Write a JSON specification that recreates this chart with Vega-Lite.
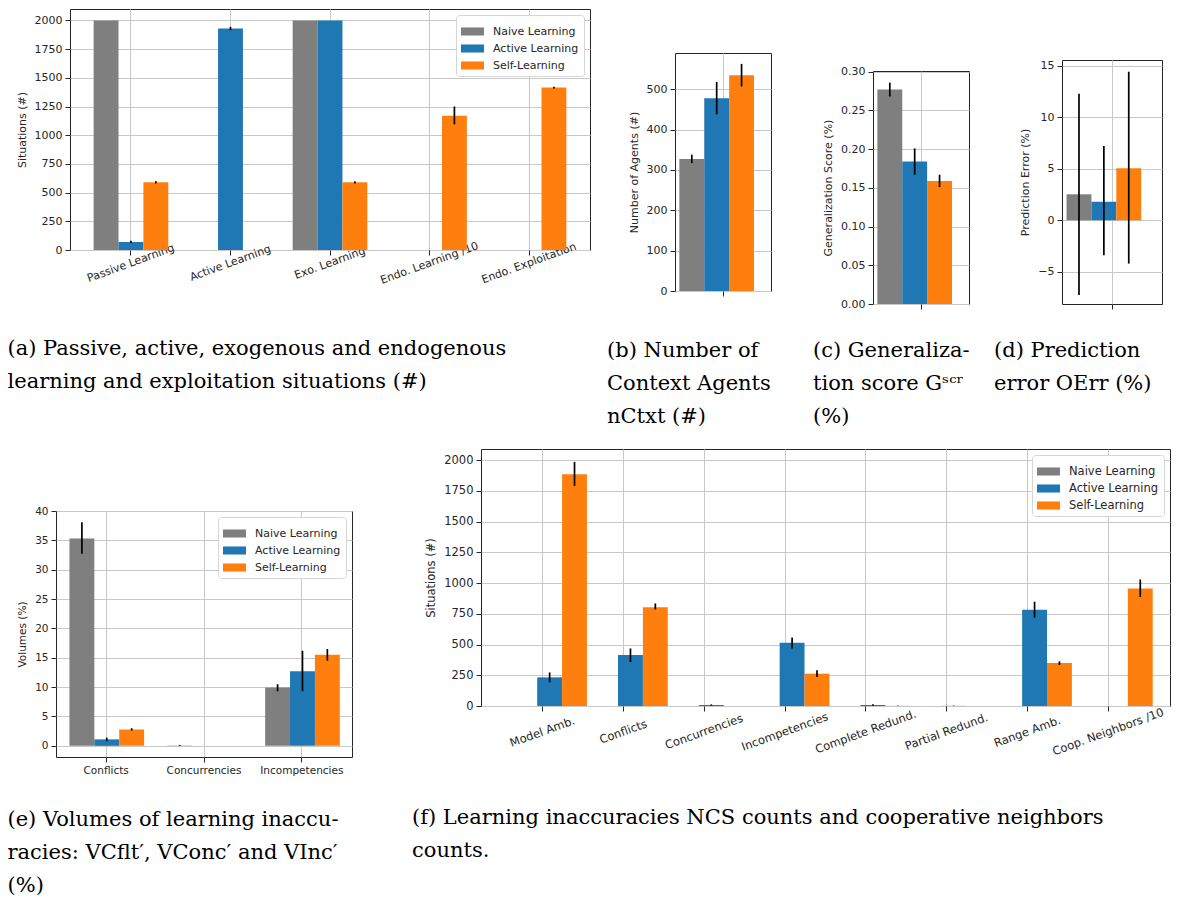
{
"$schema": "https://vega.github.io/schema/vega-lite/v6.json",
"padding": {"left": 6, "top": 8, "right": 10, "bottom": 5},
"background": "white",
"datasets": {
"a": [
{"cat": "Passive Learning", "series": "Naive Learning", "value": 2000, "lo": 2000, "hi": 2000},
{"cat": "Passive Learning", "series": "Active Learning", "value": 70, "lo": 60, "hi": 81},
{"cat": "Passive Learning", "series": "Self-Learning", "value": 590, "lo": 580, "hi": 600},
{"cat": "Active Learning", "series": "Naive Learning", "value": 0, "lo": 0, "hi": 0},
{"cat": "Active Learning", "series": "Active Learning", "value": 1930, "lo": 1915, "hi": 1945},
{"cat": "Active Learning", "series": "Self-Learning", "value": 0, "lo": 0, "hi": 0},
{"cat": "Exo. Learning", "series": "Naive Learning", "value": 2000, "lo": 2000, "hi": 2000},
{"cat": "Exo. Learning", "series": "Active Learning", "value": 2000, "lo": 2000, "hi": 2000},
{"cat": "Exo. Learning", "series": "Self-Learning", "value": 590, "lo": 580, "hi": 600},
{"cat": "Endo. Learning /10", "series": "Naive Learning", "value": 0, "lo": 0, "hi": 0},
{"cat": "Endo. Learning /10", "series": "Active Learning", "value": 0, "lo": 0, "hi": 0},
{"cat": "Endo. Learning /10", "series": "Self-Learning", "value": 1170, "lo": 1095, "hi": 1250},
{"cat": "Endo. Exploitation", "series": "Naive Learning", "value": 0, "lo": 0, "hi": 0},
{"cat": "Endo. Exploitation", "series": "Active Learning", "value": 0, "lo": 0, "hi": 0},
{"cat": "Endo. Exploitation", "series": "Self-Learning", "value": 1415, "lo": 1407, "hi": 1423}
],
"b": [
{"cat": "all", "series": "Naive Learning", "value": 327, "lo": 317, "hi": 338},
{"cat": "all", "series": "Active Learning", "value": 478, "lo": 438, "hi": 518},
{"cat": "all", "series": "Self-Learning", "value": 535, "lo": 507, "hi": 563}
],
"c": [
{"cat": "all", "series": "Naive Learning", "value": 0.277, "lo": 0.268, "hi": 0.286},
{"cat": "all", "series": "Active Learning", "value": 0.184, "lo": 0.167, "hi": 0.201},
{"cat": "all", "series": "Self-Learning", "value": 0.159, "lo": 0.151, "hi": 0.167}
],
"d": [
{"cat": "all", "series": "Naive Learning", "value": 2.53, "lo": -7.26, "hi": 12.3},
{"cat": "all", "series": "Active Learning", "value": 1.81, "lo": -3.4, "hi": 7.22},
{"cat": "all", "series": "Self-Learning", "value": 5.05, "lo": -4.2, "hi": 14.44}
],
"e": [
{"cat": "Conflicts", "series": "Naive Learning", "value": 35.3, "lo": 32.7, "hi": 38.1},
{"cat": "Conflicts", "series": "Active Learning", "value": 1.1, "lo": 0.8, "hi": 1.4},
{"cat": "Conflicts", "series": "Self-Learning", "value": 2.8, "lo": 2.6, "hi": 3.0},
{"cat": "Concurrencies", "series": "Naive Learning", "value": 0.05, "lo": 0.0, "hi": 0.15},
{"cat": "Concurrencies", "series": "Active Learning", "value": 0, "lo": 0, "hi": 0},
{"cat": "Concurrencies", "series": "Self-Learning", "value": 0, "lo": 0, "hi": 0},
{"cat": "Incompetencies", "series": "Naive Learning", "value": 9.95, "lo": 9.3, "hi": 10.5},
{"cat": "Incompetencies", "series": "Active Learning", "value": 12.7, "lo": 9.3, "hi": 16.2},
{"cat": "Incompetencies", "series": "Self-Learning", "value": 15.5, "lo": 14.5, "hi": 16.5}
],
"f": [
{"cat": "Model Amb.", "series": "Naive Learning", "value": 0, "lo": 0, "hi": 0},
{"cat": "Model Amb.", "series": "Active Learning", "value": 233, "lo": 193, "hi": 273},
{"cat": "Model Amb.", "series": "Self-Learning", "value": 1885, "lo": 1790, "hi": 1985},
{"cat": "Conflicts", "series": "Naive Learning", "value": 0, "lo": 0, "hi": 0},
{"cat": "Conflicts", "series": "Active Learning", "value": 414, "lo": 358, "hi": 468},
{"cat": "Conflicts", "series": "Self-Learning", "value": 804, "lo": 785, "hi": 834},
{"cat": "Concurrencies", "series": "Naive Learning", "value": 0, "lo": 0, "hi": 0},
{"cat": "Concurrencies", "series": "Active Learning", "value": 8, "lo": 3, "hi": 13},
{"cat": "Concurrencies", "series": "Self-Learning", "value": 0, "lo": 0, "hi": 0},
{"cat": "Incompetencies", "series": "Naive Learning", "value": 0, "lo": 0, "hi": 0},
{"cat": "Incompetencies", "series": "Active Learning", "value": 515, "lo": 468, "hi": 558},
{"cat": "Incompetencies", "series": "Self-Learning", "value": 263, "lo": 235, "hi": 290},
{"cat": "Complete Redund.", "series": "Naive Learning", "value": 0, "lo": 0, "hi": 0},
{"cat": "Complete Redund.", "series": "Active Learning", "value": 8, "lo": 3, "hi": 14},
{"cat": "Complete Redund.", "series": "Self-Learning", "value": 1, "lo": 0, "hi": 3},
{"cat": "Partial Redund.", "series": "Naive Learning", "value": 0, "lo": 0, "hi": 0},
{"cat": "Partial Redund.", "series": "Active Learning", "value": 1, "lo": 0, "hi": 3},
{"cat": "Partial Redund.", "series": "Self-Learning", "value": 0, "lo": 0, "hi": 0},
{"cat": "Range Amb.", "series": "Naive Learning", "value": 0, "lo": 0, "hi": 0},
{"cat": "Range Amb.", "series": "Active Learning", "value": 783, "lo": 718, "hi": 848},
{"cat": "Range Amb.", "series": "Self-Learning", "value": 349, "lo": 333, "hi": 363},
{"cat": "Coop. Neighbors /10", "series": "Naive Learning", "value": 0, "lo": 0, "hi": 0},
{"cat": "Coop. Neighbors /10", "series": "Active Learning", "value": 0, "lo": 0, "hi": 0},
{"cat": "Coop. Neighbors /10", "series": "Self-Learning", "value": 956, "lo": 886, "hi": 1029}
]
},
"config": {
"font": "DejaVu Sans",
"view": {"stroke": "#262626", "strokeWidth": 1},
"axis": {"labelFont": "DejaVu Sans", "labelFontSize": 11, "labelColor": "#262626", "titleFont": "DejaVu Sans", "titleFontSize": 11, "titleFontWeight": "normal", "titleColor": "#262626", "gridColor": "#c8c8c8", "gridWidth": 1, "gridOpacity": 1, "domain": false, "tickColor": "#262626", "tickSize": 5, "tickWidth": 1, "labelPadding": 3, "titlePadding": 7, "zindex": 1, "labelOverlap": false},
"legend": {"labelFont": "DejaVu Sans", "labelFontSize": 11, "labelColor": "#262626", "symbolType": "M-1,-0.35L1,-0.35L1,0.35L-1,0.35Z", "symbolSize": 529, "symbolStrokeWidth": 0, "symbolOpacity": 1, "rowPadding": 0, "labelOffset": 9, "padding": 5, "fillColor": "#ffffff", "strokeColor": "#d6d6d6", "cornerRadius": 3, "offset": 6},
"title": {"font": "DejaVu Serif", "fontSize": 21, "fontWeight": "normal", "color": "#000000", "lineHeight": 33, "baseline": "top", "anchor": "start", "align": "left"}
},
"resolve": {"scale": {"color": "independent"}, "legend": {"color": "independent"}},
"spacing": 21,
"vconcat": [
{"spacing": 0, "resolve": {"scale": {"color": "independent"}, "legend": {"color": "independent"}}, "hconcat": [
{"width": 1, "height": 1, "data": {"values": [{}]}, "mark": {"type": "text", "fontSize": 0}, "encoding": {"text": {"value": ""}}, "view": {"stroke": null}},
{
"width": 520, "height": 241,
"data": {"name": "a"},
"title": {"text": ["(a) Passive, active, exogenous and endogenous", "learning and exploitation situations (#)"], "orient": "bottom", "anchor": "start", "frame": "group", "dx": -62.5, "offset": 53},
"layer": [
{"mark": {"type": "bar"},
"encoding": {
"x": {"field": "cat", "type": "nominal", "sort": null, "title": null, "scale": {"paddingInner": 0.25, "paddingOuter": 0.2375}, "axis": {"grid": true, "labelAngle": -20, "labelAlign": "center", "labelBaseline": "middle", "labelPadding": 8}},
"xOffset": {"field": "series", "type": "nominal", "sort": ["Naive Learning", "Active Learning", "Self-Learning"], "scale": {"paddingInner": 0, "paddingOuter": 0}},
"y": {"field": "value", "type": "quantitative", "title": "Situations (#)", "scale": {"domain": [0, 2100], "nice": false, "zero": false}, "axis": {"values": [0, 250, 500, 750, 1000, 1250, 1500, 1750, 2000], "format": "d"}},
"color": {"field": "series", "type": "nominal", "sort": ["Naive Learning", "Active Learning", "Self-Learning"], "scale": {"domain": ["Naive Learning", "Active Learning", "Self-Learning"], "range": ["#7f7f7f", "#1f77b4", "#ff7f0e"]}, "legend": {"title": null, "orient": "top-right"}}
}},
{"mark": {"type": "rule", "color": "#000000", "strokeWidth": 1.7},
"encoding": {
"x": {"field": "cat", "type": "nominal", "sort": null},
"xOffset": {"field": "series", "type": "nominal", "sort": ["Naive Learning", "Active Learning", "Self-Learning"]},
"y": {"field": "lo", "type": "quantitative", "title": "Situations (#)", "axis": {"values": [0, 250, 500, 750, 1000, 1250, 1500, 1750, 2000], "format": "d"}},
"y2": {"field": "hi"}
}}
]
},
{"width": 14.5, "height": 1, "data": {"values": [{}]}, "mark": {"type": "text", "fontSize": 0}, "encoding": {"text": {"value": ""}}, "view": {"stroke": null}},
{"spacing": 0, "vconcat": [
{"width": 96, "height": 43, "data": {"values": [{}]}, "mark": {"type": "text", "fontSize": 0}, "encoding": {"text": {"value": ""}}, "view": {"stroke": null}},
{
"width": 96, "height": 238,
"data": {"name": "b"},
"title": {"text": ["(b) Number of", "Context Agents", "nCtxt (#)"], "orient": "bottom", "anchor": "start", "frame": "group", "dx": -68, "offset": 43},
"layer": [
{"mark": {"type": "bar"},
"encoding": {
"x": {"field": "cat", "type": "nominal", "title": null, "scale": {"paddingInner": 0, "paddingOuter": 0.05}, "axis": {"grid": true, "labels": false}},
"xOffset": {"field": "series", "type": "nominal", "sort": ["Naive Learning", "Active Learning", "Self-Learning"], "scale": {"paddingInner": 0, "paddingOuter": 0}},
"y": {"field": "value", "type": "quantitative", "title": "Number of Agents (#)", "scale": {"domain": [0, 590], "nice": false, "zero": false}, "axis": {"values": [0, 100, 200, 300, 400, 500]}},
"color": {"field": "series", "type": "nominal", "scale": {"domain": ["Naive Learning", "Active Learning", "Self-Learning"], "range": ["#7f7f7f", "#1f77b4", "#ff7f0e"]}, "legend": null}
}},
{"mark": {"type": "rule", "color": "#000000", "strokeWidth": 1.7},
"encoding": {
"x": {"field": "cat", "type": "nominal"},
"xOffset": {"field": "series", "type": "nominal", "sort": ["Naive Learning", "Active Learning", "Self-Learning"]},
"y": {"field": "lo", "type": "quantitative", "title": "Number of Agents (#)", "axis": {"values": [0, 100, 200, 300, 400, 500]}},
"y2": {"field": "hi"}
}}
]
}
]},
{"width": 40, "height": 1, "data": {"values": [{}]}, "mark": {"type": "text", "fontSize": 0}, "encoding": {"text": {"value": ""}}, "view": {"stroke": null}},
{"spacing": 0, "vconcat": [
{"width": 96, "height": 56, "data": {"values": [{}]}, "mark": {"type": "text", "fontSize": 0}, "encoding": {"text": {"value": ""}}, "view": {"stroke": null}},
{
"width": 96, "height": 233,
"data": {"name": "c"},
"title": {"text": ["(c) Generaliza-", "tion score Gˢᶜʳ", "(%)"], "orient": "bottom", "anchor": "start", "frame": "group", "dx": -60, "offset": 30},
"layer": [
{"mark": {"type": "bar"},
"encoding": {
"x": {"field": "cat", "type": "nominal", "title": null, "scale": {"paddingInner": 0, "paddingOuter": 0.05}, "axis": {"grid": true, "labels": false}},
"xOffset": {"field": "series", "type": "nominal", "sort": ["Naive Learning", "Active Learning", "Self-Learning"], "scale": {"paddingInner": 0, "paddingOuter": 0}},
"y": {"field": "value", "type": "quantitative", "title": "Generalization Score (%)", "scale": {"domain": [0, 0.301], "nice": false, "zero": false}, "axis": {"values": [0, 0.05, 0.1, 0.15, 0.2, 0.25, 0.3], "format": ".2f"}},
"color": {"field": "series", "type": "nominal", "scale": {"domain": ["Naive Learning", "Active Learning", "Self-Learning"], "range": ["#7f7f7f", "#1f77b4", "#ff7f0e"]}, "legend": null}
}},
{"mark": {"type": "rule", "color": "#000000", "strokeWidth": 1.7},
"encoding": {
"x": {"field": "cat", "type": "nominal"},
"xOffset": {"field": "series", "type": "nominal", "sort": ["Naive Learning", "Active Learning", "Self-Learning"]},
"y": {"field": "lo", "type": "quantitative", "title": "Generalization Score (%)", "axis": {"values": [0, 0.05, 0.1, 0.15, 0.2, 0.25, 0.3], "format": ".2f"}},
"y2": {"field": "hi"}
}}
]
}
]},
{"width": 22, "height": 1, "data": {"values": [{}]}, "mark": {"type": "text", "fontSize": 0}, "encoding": {"text": {"value": ""}}, "view": {"stroke": null}},
{"spacing": 0, "vconcat": [
{"width": 100, "height": 50, "data": {"values": [{}]}, "mark": {"type": "text", "fontSize": 0}, "encoding": {"text": {"value": ""}}, "view": {"stroke": null}},
{
"width": 100, "height": 244,
"data": {"name": "d"},
"title": {"text": ["(d) Prediction", "error OErr (%)"], "orient": "bottom", "anchor": "start", "frame": "group", "dx": -68, "offset": 30},
"layer": [
{"mark": {"type": "bar"},
"encoding": {
"x": {"field": "cat", "type": "nominal", "title": null, "scale": {"paddingInner": 0, "paddingOuter": 0.05}, "axis": {"grid": true, "labels": false}},
"xOffset": {"field": "series", "type": "nominal", "sort": ["Naive Learning", "Active Learning", "Self-Learning"], "scale": {"paddingInner": 0, "paddingOuter": 0}},
"y": {"field": "value", "type": "quantitative", "title": "Prediction Error (%)", "scale": {"domain": [-8.13, 15.58], "nice": false, "zero": false}, "axis": {"values": [-5, 0, 5, 10, 15]}},
"color": {"field": "series", "type": "nominal", "scale": {"domain": ["Naive Learning", "Active Learning", "Self-Learning"], "range": ["#7f7f7f", "#1f77b4", "#ff7f0e"]}, "legend": null}
}},
{"mark": {"type": "rule", "color": "#000000", "strokeWidth": 1.7},
"encoding": {
"x": {"field": "cat", "type": "nominal"},
"xOffset": {"field": "series", "type": "nominal", "sort": ["Naive Learning", "Active Learning", "Self-Learning"]},
"y": {"field": "lo", "type": "quantitative", "title": "Prediction Error (%)", "axis": {"values": [-5, 0, 5, 10, 15]}},
"y2": {"field": "hi"}
}}
]
}
]}
]},
{"spacing": 0, "resolve": {"scale": {"color": "independent"}, "legend": {"color": "independent"}}, "hconcat": [
{"width": 1, "height": 1, "data": {"values": [{}]}, "mark": {"type": "text", "fontSize": 0}, "encoding": {"text": {"value": ""}}, "view": {"stroke": null}},
{"spacing": 0, "resolve": {"scale": {"color": "independent"}, "legend": {"color": "independent"}}, "vconcat": [
{"width": 296, "height": 56, "data": {"values": [{}]}, "mark": {"type": "text", "fontSize": 0}, "encoding": {"text": {"value": ""}}, "view": {"stroke": null}},
{
"width": 296, "height": 246,
"data": {"name": "e"},
"title": {"text": ["(e) Volumes of learning inaccu-", "racies: VCflt′, VConc′ and VInc′", "(%)"], "orient": "bottom", "anchor": "start", "frame": "group", "dx": -48.5, "offset": 33},
"layer": [
{"mark": {"type": "bar"},
"encoding": {
"x": {"field": "cat", "type": "nominal", "sort": null, "title": null, "scale": {"paddingInner": 0.25, "paddingOuter": 0.1375}, "axis": {"grid": true, "labelAngle": 0, "labelFontSize": 10.5}},
"xOffset": {"field": "series", "type": "nominal", "sort": ["Naive Learning", "Active Learning", "Self-Learning"], "scale": {"paddingInner": 0, "paddingOuter": 0}},
"y": {"field": "value", "type": "quantitative", "title": "Volumes (%)", "scale": {"domain": [-1.9, 40], "nice": false, "zero": false}, "axis": {"values": [0, 5, 10, 15, 20, 25, 30, 35, 40], "labelFontSize": 10.5, "titleFontSize": 10.5}},
"color": {"field": "series", "type": "nominal", "sort": ["Naive Learning", "Active Learning", "Self-Learning"], "scale": {"domain": ["Naive Learning", "Active Learning", "Self-Learning"], "range": ["#7f7f7f", "#1f77b4", "#ff7f0e"]}, "legend": {"title": null, "orient": "top-right", "labelFontSize": 11}}
}},
{"mark": {"type": "rule", "color": "#000000", "strokeWidth": 1.7},
"encoding": {
"x": {"field": "cat", "type": "nominal", "sort": null},
"xOffset": {"field": "series", "type": "nominal", "sort": ["Naive Learning", "Active Learning", "Self-Learning"]},
"y": {"field": "lo", "type": "quantitative", "title": "Volumes (%)", "axis": {"values": [0, 5, 10, 15, 20, 25, 30, 35, 40], "labelFontSize": 10.5, "titleFontSize": 10.5}},
"y2": {"field": "hi"}
}}
]
}
]},
{"width": 58, "height": 1, "data": {"values": [{}]}, "mark": {"type": "text", "fontSize": 0}, "encoding": {"text": {"value": ""}}, "view": {"stroke": null}},
{
"width": 689, "height": 257,
"data": {"name": "f"},
"title": {"text": ["(f) Learning inaccuracies NCS counts and cooperative neighbors", "counts."], "orient": "bottom", "anchor": "start", "frame": "group", "dx": -69, "offset": 50},
"layer": [
{"mark": {"type": "bar"},
"encoding": {
"x": {"field": "cat", "type": "nominal", "sort": null, "title": null, "scale": {"paddingInner": 0.25, "paddingOuter": 0.3875}, "axis": {"grid": true, "labelAngle": -20, "labelAlign": "center", "labelBaseline": "middle", "labelPadding": 21, "labelFontSize": 11.5}},
"xOffset": {"field": "series", "type": "nominal", "sort": ["Naive Learning", "Active Learning", "Self-Learning"], "scale": {"paddingInner": 0, "paddingOuter": 0}},
"y": {"field": "value", "type": "quantitative", "title": "Situations (#)", "scale": {"domain": [0, 2090], "nice": false, "zero": false}, "axis": {"values": [0, 250, 500, 750, 1000, 1250, 1500, 1750, 2000], "format": "d", "labelFontSize": 11.5, "titleFontSize": 11.5}},
"color": {"field": "series", "type": "nominal", "sort": ["Naive Learning", "Active Learning", "Self-Learning"], "scale": {"domain": ["Naive Learning", "Active Learning", "Self-Learning"], "range": ["#7f7f7f", "#1f77b4", "#ff7f0e"]}, "legend": {"title": null, "orient": "top-right", "labelFontSize": 11.5}}
}},
{"mark": {"type": "rule", "color": "#000000", "strokeWidth": 1.7},
"encoding": {
"x": {"field": "cat", "type": "nominal", "sort": null},
"xOffset": {"field": "series", "type": "nominal", "sort": ["Naive Learning", "Active Learning", "Self-Learning"]},
"y": {"field": "lo", "type": "quantitative", "title": "Situations (#)", "axis": {"values": [0, 250, 500, 750, 1000, 1250, 1500, 1750, 2000], "format": "d", "labelFontSize": 11.5, "titleFontSize": 11.5}},
"y2": {"field": "hi"}
}}
]
}
]}
]
}
